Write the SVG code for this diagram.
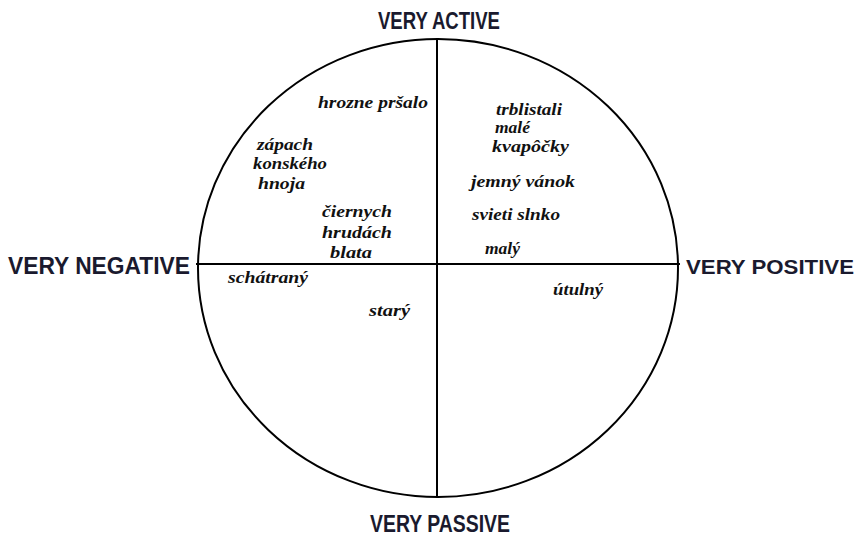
<svg xmlns="http://www.w3.org/2000/svg" width="861" height="537" viewBox="0 0 861 537">
<style>
.ax{font-family:"Liberation Sans",Arial,sans-serif;font-weight:bold;font-size:23px;fill:#1a1a2e}
.lb{font-family:"Liberation Serif","Times New Roman",serif;font-style:italic;font-size:16px;fill:#111;font-weight:bold}
.ln{stroke:#000;stroke-width:2;fill:none}
</style>
<rect width="861" height="537" fill="#fff"/>
<g id="connectors">
<ellipse class="ln" cx="438" cy="268" rx="240" ry="229"/>
<line class="ln" x1="196" y1="264" x2="680" y2="264"/>
<line class="ln" x1="437" y1="39" x2="437" y2="497"/>
</g>
<g id="axis-active"><text class="ax" x="378" y="29" textLength="122" lengthAdjust="spacingAndGlyphs">VERY ACTIVE</text></g>
<g id="axis-negative"><text class="ax" x="8" y="274" textLength="182" lengthAdjust="spacingAndGlyphs">VERY NEGATIVE</text></g>
<g id="axis-positive"><text class="ax" x="686" y="274" style="font-size:21px" textLength="168" lengthAdjust="spacingAndGlyphs">VERY POSITIVE</text></g>
<g id="axis-passive"><text class="ax" x="370" y="532" textLength="140" lengthAdjust="spacingAndGlyphs">VERY PASSIVE</text></g>
<g id="n-hrozne"><text class="lb" x="318" y="108" textLength="110" lengthAdjust="spacingAndGlyphs">hrozne pršalo</text></g>
<g id="n-zapach">
<text class="lb" x="257" y="150" textLength="56" lengthAdjust="spacingAndGlyphs">zápach</text>
<text class="lb" x="253" y="169" textLength="74" lengthAdjust="spacingAndGlyphs">konského</text>
<text class="lb" x="258" y="189" textLength="47" lengthAdjust="spacingAndGlyphs">hnoja</text>
</g>
<g id="n-ciernych">
<text class="lb" x="322" y="217" textLength="70" lengthAdjust="spacingAndGlyphs">čiernych</text>
<text class="lb" x="322" y="238" textLength="70" lengthAdjust="spacingAndGlyphs">hrudách</text>
<text class="lb" x="330" y="258" textLength="42" lengthAdjust="spacingAndGlyphs">blata</text>
</g>
<g id="n-trblistali">
<text class="lb" x="496" y="115" textLength="66" lengthAdjust="spacingAndGlyphs">trblistali</text>
<text class="lb" x="495" y="133" textLength="35" lengthAdjust="spacingAndGlyphs">malé</text>
<text class="lb" x="492" y="152" textLength="77" lengthAdjust="spacingAndGlyphs">kvapôčky</text>
</g>
<g id="n-jemny"><text class="lb" x="471" y="187" textLength="104" lengthAdjust="spacingAndGlyphs">jemný vánok</text></g>
<g id="n-svieti"><text class="lb" x="472" y="220" textLength="88" lengthAdjust="spacingAndGlyphs">svieti slnko</text></g>
<g id="n-maly"><text class="lb" x="485" y="254" textLength="35" lengthAdjust="spacingAndGlyphs">malý</text></g>
<g id="n-schatrany"><text class="lb" x="228" y="283" textLength="80" lengthAdjust="spacingAndGlyphs">schátraný</text></g>
<g id="n-stary"><text class="lb" x="369" y="316" textLength="41" lengthAdjust="spacingAndGlyphs">starý</text></g>
<g id="n-utulny"><text class="lb" x="553" y="295" textLength="50" lengthAdjust="spacingAndGlyphs">útulný</text></g>
</svg>
